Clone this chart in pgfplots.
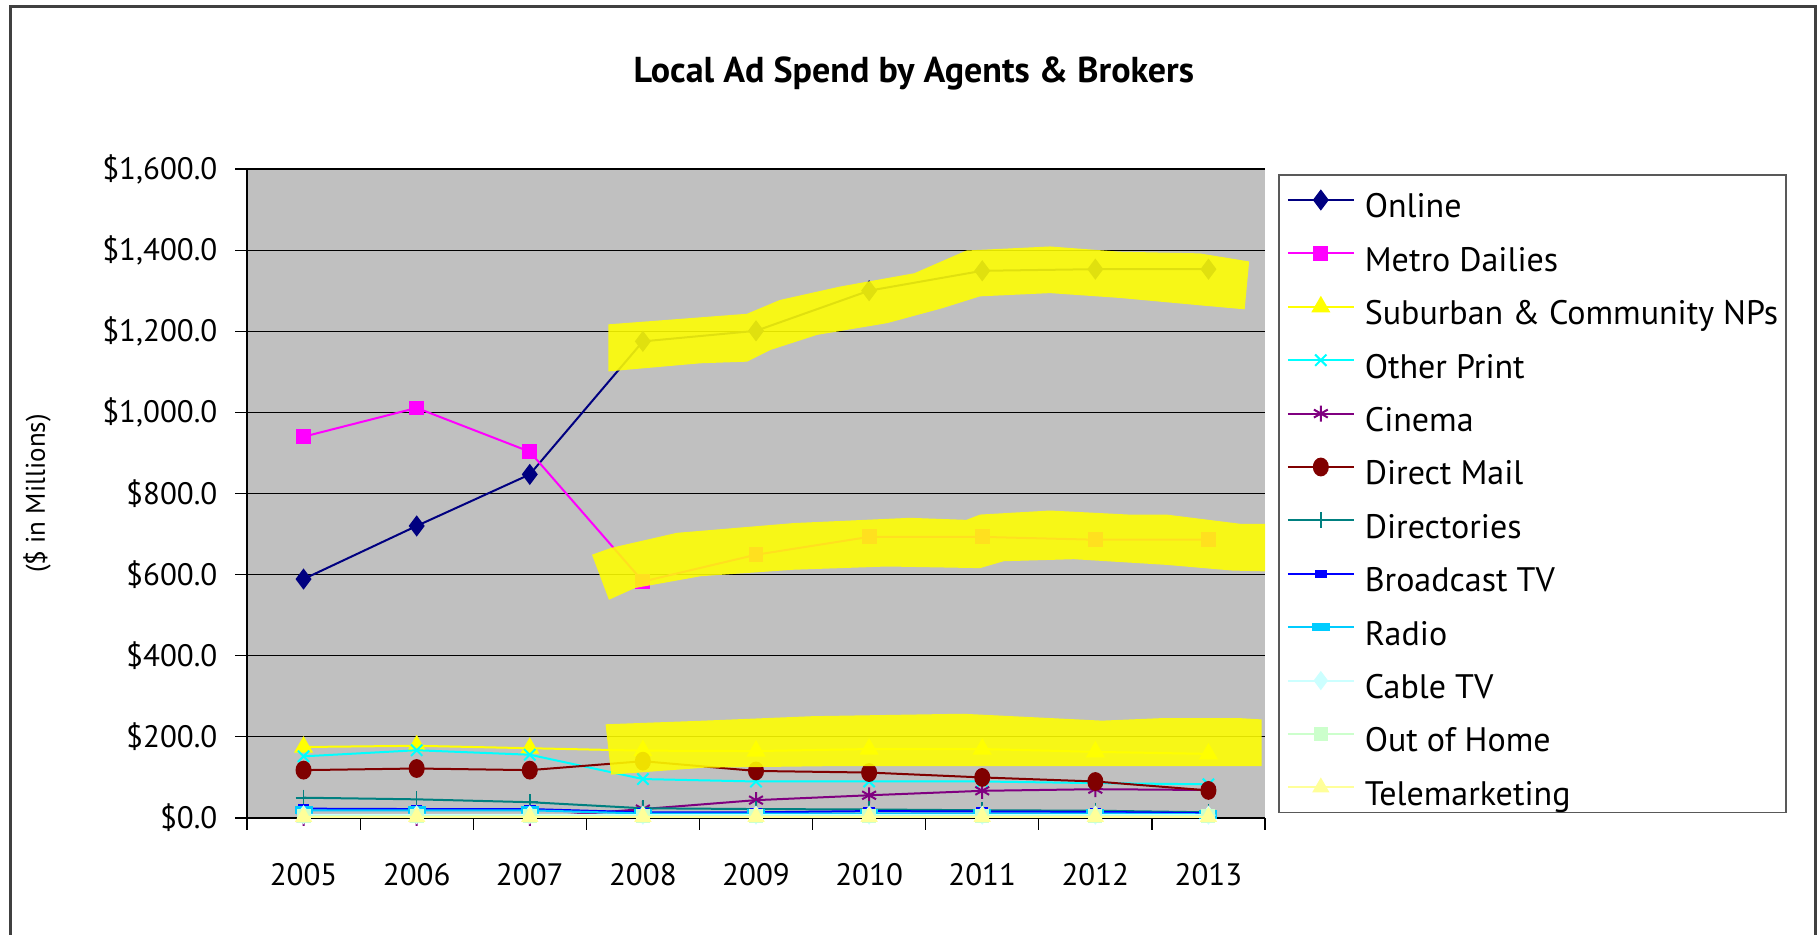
\documentclass[border=0pt]{standalone}
\usepackage{pgfplots}
\pgfplotsset{compat=1.18}
\usepackage{pgfplotstable}
\usepackage{fontspec}
\setmainfont{PT Sans}
\definecolor{plotgray}{RGB}{192,192,192}
\definecolor{cOnline}{RGB}{0,0,128}
\definecolor{cMetro}{RGB}{255,0,255}
\definecolor{cSub}{RGB}{255,255,0}
\definecolor{cOther}{RGB}{0,255,255}
\definecolor{cCinema}{RGB}{128,0,128}
\definecolor{cMail}{RGB}{128,0,0}
\definecolor{cDir}{RGB}{0,128,128}
\definecolor{cBTV}{RGB}{0,0,255}
\definecolor{cRadio}{RGB}{0,204,255}
\definecolor{cCable}{RGB}{204,255,255}
\definecolor{cOOH}{RGB}{204,255,204}
\definecolor{cTele}{RGB}{255,255,153}
\definecolor{hl}{RGB}{255,255,0}

\pgfplotstableread{
idx Online Metro Sub Other Cinema Mail Dir BTV Radio Cable OOH Tele
0 589 940 175 152 0 118 50 23 19 8 5 3
1 720 1011 178 167 0 122 46 22 19 8 5 3
2 847 903 172 156 0 118 39 22 19 8 5 3
3 1175 583 166 96 22 140 24 14 11 7 5 3
4 1201 649 165 90 44 116 22 14 11 7 5 3
5 1300 693 170 90 56 112 21 17 11 7 5 3
6 1349 693 170 90 67 100 19 16 11 7 5 3
7 1353 686 163 86 71 90 18 15 11 7 5 3
8 1353 686 158 83 69 68 14 12 9 7 5 3
}\datatable

\begin{document}
\begin{tikzpicture}[x=1pt,y=1pt]
\path[use as bounding box] (0,0) rectangle (909,467.5);
\draw[line width=1.5pt, color=black!75] (5,-5) -- (5,464) -- (907.5,464) -- (907.5,-5);
\begin{axis}[
  at={(123.5pt,58.5pt)}, anchor=south west,
  scale only axis, width=509pt, height=324.5pt,
  xmin=-0.5, xmax=8.5, ymin=0, ymax=1600,
  axis background/.style={fill=plotgray},
  axis x line*=bottom, axis y line*=left,
  axis line style={black, line width=0.8pt},
  xtick={0,...,8},
  xticklabels={2005,2006,2007,2008,2009,2010,2011,2012,2013},
  major x tick style={draw=none},
  minor xtick={-0.5,0.5,...,8.5},
  minor x tick style={black, line width=0.6pt},
  minor tick length=6pt,
  ytick={0,200,...,1600},
  yticklabels={\$0.0,\$200.0,\$400.0,\$600.0,\$800.0,\$1{,}000.0,\$1{,}200.0,\$1{,}400.0,\$1{,}600.0},
  major tick length=6pt,
  tick align=outside,
  y tick style={black, line width=0.6pt},
  ymajorgrids, major grid style={black, line width=0.6pt},
  tick label style={font=\fontsize{15.5}{18}\selectfont},
  xticklabel style={yshift=-13pt},
  yticklabel style={xshift=-5.3pt},
  ylabel={(\$ in Millions)},
  ylabel style={font=\fontsize{13.5}{15}\selectfont, at={(axis description cs:-0.2063,0.5)}, anchor=center, rotate=0},
  title={\textbf{Local Ad Spend by Agents \& Brokers}},
  title style={font=\fontsize{18}{21}\selectfont, at={(axis description cs:0.655,1.1294)}, anchor=center},
  legend style={at={(axis description cs:1.0128,0.992)}, anchor=north west,
    draw=black!65, line width=0.8pt, fill=white,
    font=\fontsize{17}{20}\selectfont,
    inner xsep=4pt, inner ysep=3.5pt,
    nodes={inner sep=0pt, text height=18pt, text depth=0pt},
    row sep=8.7pt,
    /tikz/every odd column/.append style={column sep=5pt}},
  legend cell align=left,
  legend image code/.code={\draw[mark repeat=2,mark phase=2] plot coordinates {(0pt,0pt)(16.5pt,0pt)(33pt,0pt)};},
  every axis plot/.append style={line width=1pt},
  clip mode=individual,
]
\addplot[cOnline, mark=diamond*, mark size=4.5pt, mark options={fill=cOnline}] table[x=idx,y=Online] {\datatable};
\addlegendentry{Online}
\addplot[cMetro, mark=square*, mark size=3.2pt, mark options={fill=cMetro}] table[x=idx,y=Metro] {\datatable};
\addlegendentry{Metro Dailies}
\addplot[cSub, mark=triangle*, mark size=4.5pt, mark options={fill=cSub}] table[x=idx,y=Sub] {\datatable};
\addlegendentry{Suburban \& Community NPs}
\addplot[cOther, mark=x, mark size=4pt, mark options={line width=1pt}] table[x=idx,y=Other] {\datatable};
\addlegendentry{Other Print}
\addplot[cCinema, mark=asterisk, mark size=4pt, mark options={line width=1pt}] table[x=idx,y=Cinema] {\datatable};
\addlegendentry{Cinema}
\addplot[cMail, mark=*, mark size=3.5pt, mark options={fill=cMail, yscale=1.2}] table[x=idx,y=Mail] {\datatable};
\addlegendentry{Direct Mail}
\addplot[cDir, mark=+, mark size=4pt, mark options={line width=0.8pt}] table[x=idx,y=Dir] {\datatable};
\addlegendentry{Directories}
\addplot[cBTV, mark=square*, mark size=2pt, mark options={fill=cBTV, xscale=1.2, yscale=0.8}] table[x=idx,y=BTV] {\datatable};
\addlegendentry{Broadcast TV}
\addplot[cRadio, mark=square*, mark size=2pt, mark options={fill=cRadio, xscale=2, yscale=0.8}] table[x=idx,y=Radio] {\datatable};
\addlegendentry{Radio}
\addplot[cCable, mark=diamond*, mark size=4pt, mark options={fill=cCable}] table[x=idx,y=Cable] {\datatable};
\addlegendentry{Cable TV}
\addplot[cOOH, mark=square*, mark size=3pt, mark options={fill=cOOH}] table[x=idx,y=OOH] {\datatable};
\addlegendentry{Out of Home}
\addplot[cTele, mark=triangle*, mark size=4pt, mark options={fill=cTele}] table[x=idx,y=Tele] {\datatable};
\addlegendentry{Telemarketing}
% highlighter annotations
\addplot[forget plot, draw=none, fill=hl, fill opacity=0.88, line width=0pt] coordinates {
(2.695,1217)(3.92,1243)(4.21,1277)(4.74,1310)(5.40,1343)(5.86,1399)(6.60,1409)(7.22,1396)(7.92,1392)(8.36,1372)(8.32,1254)(7.96,1263)(7.22,1282)(6.60,1294)(5.98,1286)(5.65,1257)(5.16,1220)(4.54,1191)(4.13,1154)(3.92,1125)(3.51,1121)(2.695,1101)} -- cycle;
\addplot[forget plot, draw=none, fill=hl, fill opacity=0.88, line width=0pt] coordinates {
(2.55,649)(2.72,666)(3.30,703)(4.33,727)(5.36,740)(5.86,735)(5.98,748)(6.60,758)(7.30,748)(7.63,748)(8.29,725)(8.5,725)(8.5,608)(8.21,610)(7.63,624)(6.81,638)(6.19,633)(5.98,616)(5.16,620)(4.33,612)(3.51,596)(2.93,567)(2.70,538)} -- cycle;
\addplot[forget plot, draw=none, fill=hl, fill opacity=0.88, line width=0pt] coordinates {
(2.67,231)(3.54,240)(4.50,251)(5.83,257)(7.06,240)(7.57,246)(8.29,246)(8.47,243)(8.47,128)(6.47,128)(4.71,128)(3.54,124)(2.72,107)} -- cycle;
\end{axis}
\end{tikzpicture}
\end{document}
